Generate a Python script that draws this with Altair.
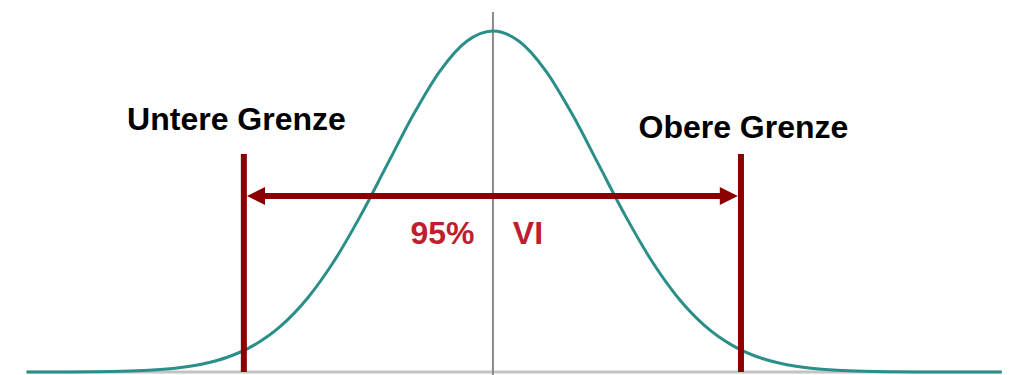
import altair as alt
import pandas as pd

# Curve (x in standard-deviation units, y relative to peak)
curve_x = [-4.4, -4.0, -3.75, -3.5, -3.25, -3.0, -2.75, -2.5, -2.25, -2.0, -1.75, -1.5,
           -1.25, -1.0, -0.75, -0.5, -0.25, 0.0, 0.25, 0.5, 0.75, 1.0, 1.25, 1.5,
           1.75, 2.0, 2.25, 2.5, 2.75, 3.0, 3.25, 3.5, 3.75, 4.0, 4.4, 4.8]
curve_y = [0.0, 0.0003, 0.0009, 0.0022, 0.0051, 0.0111, 0.0228, 0.0439, 0.0796, 0.1353,
           0.2163, 0.3247, 0.4578, 0.6065, 0.7548, 0.8825, 0.9692, 1.0, 0.9692, 0.8825,
           0.7548, 0.6065, 0.4578, 0.3247, 0.2163, 0.1353, 0.0796, 0.0439, 0.0228,
           0.0111, 0.0051, 0.0022, 0.0009, 0.0003, 0.0, 0.0]

# Interval limits and arrow
limit_x = [-2.35, 2.34]
limit_top = 0.639
arrow_y = 0.516
arrow_tips = [-2.32, 2.31]
arrow_dirs = ["left", "right"]
center_top = 1.056

# Labels
label_text = ["Untere Grenze", "Obere Grenze"]
label_x = [-2.42, 2.363]
label_y = [0.7096, 0.6862]
ci_text = ["95%", "VI"]
ci_x = [-0.476, 0.33]
ci_y = [0.3753, 0.3753]

XMIN, XMAX = -4.575, 4.812
YMIN, YMAX = -0.0088, 1.0674

xs = alt.Scale(domain=[XMIN, XMAX], nice=False, zero=False)
ys = alt.Scale(domain=[YMIN, YMAX], nice=False, zero=False)

curve_df = pd.DataFrame({"x": curve_x, "y": curve_y})
base_df = pd.DataFrame({"x": [curve_x[0]], "x2": [curve_x[-1]], "y": [0.0]})
center_df = pd.DataFrame({"x": [0.0], "y": [YMIN], "y2": [center_top]})
limit_df = pd.DataFrame({"x": limit_x, "y": [0.0, 0.0], "y2": [limit_top, limit_top]})
shaft_df = pd.DataFrame({"x": [arrow_tips[0] + 0.1], "x2": [arrow_tips[1] - 0.1], "y": [arrow_y]})
head_df = pd.DataFrame({"x": arrow_tips, "y": [arrow_y, arrow_y], "d": arrow_dirs})
label_df = pd.DataFrame({"x": label_x, "y": label_y, "t": label_text})
ci_df = pd.DataFrame({"x": ci_x, "y": ci_y, "t": ci_text})

X = lambda f="x": alt.X(f, type="quantitative", scale=xs, axis=None)
Y = lambda f="y": alt.Y(f, type="quantitative", scale=ys, axis=None)

baseline = alt.Chart(base_df).mark_rule(color="#c4c4c4", strokeWidth=3).encode(
    x=X(), x2="x2", y=Y())
center = alt.Chart(center_df).mark_rule(color="#8a8a8a", strokeWidth=2).encode(
    x=X(), y=Y(), y2="y2")
curve = alt.Chart(curve_df).mark_line(color="#2a8f89", strokeWidth=3,
                                      interpolate="monotone").encode(x=X(), y=Y())
limits = alt.Chart(limit_df).mark_rule(color="#8b0000", strokeWidth=6).encode(
    x=X(), y=Y(), y2="y2")
shaft = alt.Chart(shaft_df).mark_rule(color="#8b0000", strokeWidth=6).encode(
    x=X(), x2="x2", y=Y())
head_l = alt.Chart(head_df[head_df.d == "left"]).mark_point(
    shape="M 0 0 L 2 -1 L 2 1 Z", size=324, filled=True, opacity=1,
    color="#8b0000").encode(x=X(), y=Y())
head_r = alt.Chart(head_df[head_df.d == "right"]).mark_point(
    shape="M 0 0 L -2 -1 L -2 1 Z", size=324, filled=True, opacity=1,
    color="#8b0000").encode(x=X(), y=Y())
labels = alt.Chart(label_df).mark_text(
    font="Liberation Sans", fontSize=32, fontWeight="bold", color="#000000",
    align="center", baseline="alphabetic").encode(x=X(), y=Y(), text="t:N")
ci_labels = alt.Chart(ci_df).mark_text(
    font="Liberation Sans", fontSize=32, fontWeight="bold", color="#be1e2d",
    align="center", baseline="alphabetic").encode(x=X(), y=Y(), text="t:N")

chart = alt.layer(baseline, center, curve, limits, shaft, head_l, head_r, labels,
                  ci_labels).properties(
    width=995, height=367, padding=0, background="white",
    autosize=alt.AutoSizeParams(type="none")
).configure_view(stroke="transparent", strokeWidth=0)

chart.save("out.html", embed_options={"renderer": "svg", "actions": False})
